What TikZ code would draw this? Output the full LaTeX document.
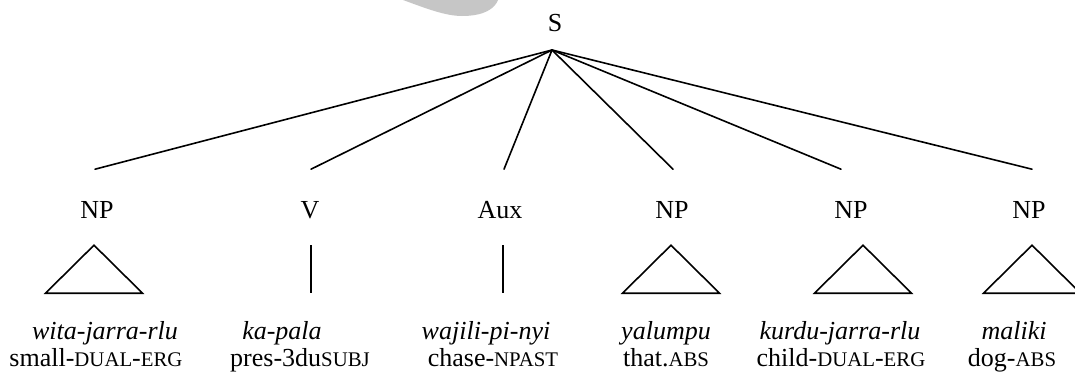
\documentclass[tikz,border=0pt]{standalone}
\usepackage{fontspec}
\setmainfont{Liberation Serif}
\definecolor{blobgray}{RGB}{198,198,198}
% reduced-size capitals used for the grammatical glosses
\newcommand\glsc[1]{{\fontsize{20.8}{24}\selectfont #1}}
\begin{document}
\begin{tikzpicture}[x=1pt,y=-1pt,
  cat/.style={font=\fontsize{26}{31}\selectfont, inner xsep=0pt, inner ysep=32pt,
              text height=17.2pt, text depth=0pt, anchor=base},
  word/.style={font=\fontsize{26}{31}\selectfont\itshape, inner sep=0pt, anchor=base},
  gloss/.style={font=\fontsize{26}{31}\selectfont, inner sep=0pt, anchor=base},
  branch/.style={line width=1.6pt, line cap=round},
  roof/.style={line width=1.6pt, line join=miter}]
\useasboundingbox (0,0) rectangle (1075,373);

% grey shape at the top edge
\fill[blobgray] (403,0) .. controls (425,8) and (445,16) .. (462,16)
  .. controls (485,16) and (495,8) .. (498,0) -- cycle;

% root
\node[font=\fontsize{26}{31}\selectfont, inner sep=0pt, anchor=base] (S) at (555,31.6) {S};
\coordinate (root) at (552,50);

% daughters
\node[cat] (np1) at (97,218.6) {NP};
\node[cat] (v)   at (310,218.6) {V};
\node[cat] (aux) at (500,218.6) {Aux};
\node[cat] (np4) at (672,218.6) {NP};
\node[cat] (np5) at (851,218.6) {NP};
\node[cat] (np6) at (1029,218.6) {NP};

\draw[branch] (root) -- ([xshift=-2pt]np1.north);
\draw[branch] (root) -- ([xshift=1pt]v.north);
\draw[branch] (root) -- ([xshift=4pt]aux.north);
\draw[branch] (root) -- ([xshift=1pt]np4.north);
\draw[branch] (root) -- ([xshift=-10pt]np5.north);
\draw[branch] (root) -- ([xshift=3pt]np6.north);

% roofs and unary branches
\draw[roof] ([xshift=-3pt,yshift=5.6pt]np1.south) -- ++(-48.5,48) -- ++(97,0) -- cycle;
\draw[roof] ([xshift=-1pt,yshift=5.6pt]np4.south) -- ++(-48.5,48) -- ++(97,0) -- cycle;
\draw[roof] ([xshift=12pt,yshift=5.6pt]np5.south) -- ++(-48.5,48) -- ++(97,0) -- cycle;
\draw[roof] ([xshift=3pt,yshift=5.6pt]np6.south) -- ++(-48.5,48) -- ++(97,0) -- cycle;
\draw[branch, line cap=butt] ([xshift=1pt,yshift=5.6pt]v.south) -- ++(0,48);
\draw[branch, line cap=butt] ([xshift=3pt,yshift=5.6pt]aux.south) -- ++(0,48);

% words and glosses
\node[word] (w1) at (105,339) {wita-jarra-rlu};
\node[word] (w2) at (282,339) {ka-pala};
\node[word] (w3) at (486,339) {wajili-pi-nyi};
\node[word] (w4) at (666,339) {yalumpu};
\node[word] (w5) at (840,339) {kurdu-jarra-rlu};
\node[word] (w6) at (1014,339) {maliki};

\node[gloss] (g1) at (96,366) {small-\glsc{DUAL}-\glsc{ERG}};
\node[gloss] (g2) at (300,366) {pres-3du\glsc{SUBJ}};
\node[gloss] (g3) at (493,366) {chase-\glsc{NPAST}};
\node[gloss] (g4) at (666,366) {that.\glsc{ABS}};
\node[gloss] (g5) at (841,366) {child-\glsc{DUAL}-\glsc{ERG}};
\node[gloss] (g6) at (1012,366) {dog-\glsc{ABS}};
\end{tikzpicture}
\end{document}
